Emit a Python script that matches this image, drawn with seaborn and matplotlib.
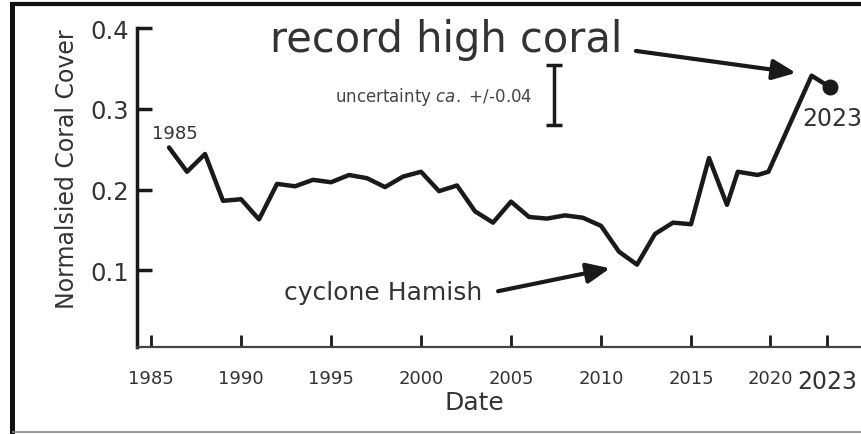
import matplotlib
matplotlib.use("Agg")
import matplotlib.pyplot as plt
import seaborn as sns
from matplotlib.lines import Line2D

# normalised coral cover
years = [1986, 1987, 1988, 1989, 1990, 1991, 1992, 1993, 1994, 1995,
         1996, 1997, 1998, 1999, 2000, 2001, 2002, 2003, 2004, 2005,
         2006, 2007, 2008, 2009, 2010, 2011, 2012, 2013, 2014, 2015,
         2016, 2017, 2017.6, 2018.7, 2019.3, 2021.7, 2022.7]
cover = [0.252, 0.222, 0.244, 0.186, 0.188, 0.163, 0.207, 0.204, 0.212, 0.209,
         0.218, 0.214, 0.203, 0.216, 0.222, 0.198, 0.205, 0.173, 0.159, 0.185,
         0.166, 0.164, 0.168, 0.165, 0.155, 0.123, 0.107, 0.145, 0.159, 0.157,
         0.239, 0.181, 0.222, 0.218, 0.222, 0.341, 0.327]

x_ticks = [1985, 1990, 1995, 2000, 2005, 2010, 2015, 2019.4, 2022.55]
x_tick_labels = ["1985", "1990", "1995", "2000", "2005", "2010", "2015", "2020", "2023"]
y_ticks = [0.1, 0.2, 0.3, 0.4]
y_tick_labels = ["0.1", "0.2", "0.3", "0.4"]

# uncertainty bar
unc_year = 2007.4
unc_mid = 0.317
unc_err = 0.037

sns.set_style("ticks")
plt.rcParams["font.family"] = ["DejaVu Sans"]

line_col = "#1a1a1a"
text_col = "#333333"

fig = plt.figure(figsize=(8.62, 4.35), dpi=100)
ax = fig.add_axes([137 / 862, 1 - 348 / 435, 1 - 137 / 862, (348 - 29) / 435])

sns.lineplot(x=years, y=cover, ax=ax, color=line_col, linewidth=3.2)
ax.plot(years[-1], cover[-1], "o", color=line_col, markersize=10.5)
ax.errorbar(unc_year, unc_mid, yerr=unc_err, color=line_col, capsize=6,
            capthick=2.5, elinewidth=2.5)

ax.set_xlim(1984.22, 2024.5)
ax.set_ylim(0.005, 0.4)
ax.set_xticks(x_ticks)
ax.set_xticklabels(x_tick_labels)
ax.set_yticks(y_ticks)
ax.set_yticklabels(y_tick_labels)
ax.tick_params(axis="x", direction="in", length=9, width=2, pad=16,
               labelsize=13, labelcolor=text_col, color=line_col)
ax.tick_params(axis="y", direction="in", length=11, width=2.5, pad=6,
               labelsize=17.5, labelcolor=text_col, color=line_col)
ax.get_xticklabels()[-1].set_fontsize(17)

for side in ["top", "right"]:
    ax.spines[side].set_visible(False)
ax.spines["left"].set_linewidth(2.5)
ax.spines["bottom"].set_linewidth(1.6)
ax.spines["left"].set_color(line_col)
ax.spines["bottom"].set_color("#444444")

ax.set_xlabel("Date", fontsize=18, color=text_col)
ax.xaxis.set_label_coords((474 - 137) / 725, -0.135)
ax.set_ylabel("Normalsied Coral Cover", fontsize=17, color=text_col)
ax.yaxis.set_label_coords(-0.08, 0.56)

# annotations
ax.text(2001.4, 0.386, "record high coral", fontsize=30, color=text_col,
        ha="center", va="center")
ax.annotate("", xy=(2020.83, 0.3444), xytext=(2011.94, 0.3716),
            arrowprops=dict(arrowstyle="-|>,head_length=0.5,head_width=0.22",
                            color=line_col, lw=3, mutation_scale=28,
                            shrinkA=0, shrinkB=0))
ax.text(1997.9, 0.0728, "cyclone Hamish", fontsize=18, color=text_col,
        ha="center", va="center")
ax.annotate("", xy=(2010.5, 0.1025), xytext=(2004.28, 0.0741),
            arrowprops=dict(arrowstyle="-|>,head_length=0.5,head_width=0.22",
                            color=line_col, lw=3, mutation_scale=28,
                            shrinkA=0, shrinkB=0))
ax.text(1986.3, 0.270, "1985", fontsize=13, color=text_col,
        ha="center", va="center")
ax.text(2021.2, 0.289, "2023", fontsize=17, color=text_col,
        ha="left", va="center", clip_on=False)
ax.text(2006.2, 0.316, "uncertainty $\\it{ca.}$ +/-0.04", fontsize=12,
        color="#444444", ha="right", va="center")

# picture frame
fig.add_artist(Line2D([12.5 / 862, 12.5 / 862], [0, 1 - 3 / 435], color="#111111",
                      lw=3.6, solid_capstyle="butt", transform=fig.transFigure))
fig.add_artist(Line2D([10.5 / 862, 1], [1 - 5 / 435, 1 - 5 / 435], color="#111111",
                      lw=3, solid_capstyle="butt", transform=fig.transFigure))
fig.add_artist(Line2D([12.5 / 862, 1], [1 - 433 / 435, 1 - 433 / 435], color="#888888",
                      lw=1.2, solid_capstyle="butt", transform=fig.transFigure))

fig.savefig("out.png", dpi=100)
